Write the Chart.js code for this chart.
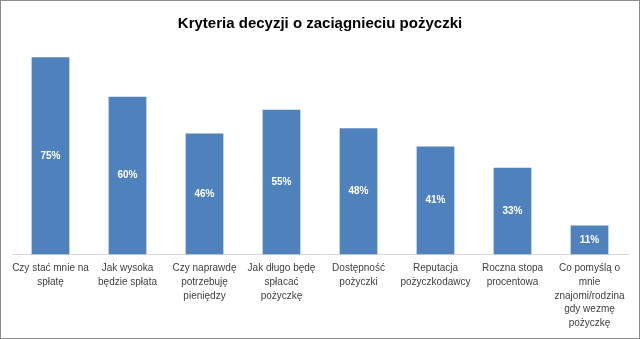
<!DOCTYPE html>
<html>
<head>
<meta charset="utf-8">
<script src="https://cdn.jsdelivr.net/npm/chart.js@4"></script>
<style>
html,body{margin:0;padding:0;background:#fff;}
#wrap{width:640px;height:339px;box-sizing:border-box;border:1px solid #8c8c8c;position:relative;}
#c{display:block;}
</style>
</head>
<body>
<div id="wrap"><canvas id="c" width="638" height="337"></canvas></div>
<script>
const titleText = "Kryteria decyzji o zaciągnieciu pożyczki";
const categories = [
  ["Czy stać mnie na","spłatę"],
  ["Jak wysoka","będzie spłata"],
  ["Czy naprawdę","potrzebuję","pieniędzy"],
  ["Jak długo będę","spłacać","pożyczkę"],
  ["Dostępność","pożyczki"],
  ["Reputacja","pożyczkodawcy"],
  ["Roczna stopa","procentowa"],
  ["Co pomyślą o","mnie","znajomi/rodzina","gdy wezmę","pożyczkę"]
];
const values = [75, 60, 46, 55, 48, 41, 33, 11];

const barLabels = {
  id: 'barLabels',
  afterDatasetsDraw(chart) {
    const ctx = chart.ctx;
    const meta = chart.getDatasetMeta(0);
    ctx.save();
    ctx.fillStyle = '#ffffff';
    ctx.font = 'bold 10px "Liberation Sans", Arial, sans-serif';
    ctx.textAlign = 'center';
    ctx.textBaseline = 'middle';
    meta.data.forEach((bar, i) => {
      const y = (bar.y + bar.base) / 2;
      ctx.fillText(values[i] + '%', bar.x, y);
    });
    ctx.restore();
  }
};

new Chart(document.getElementById('c'), {
  type: 'bar',
  data: {
    labels: categories,
    datasets: [{
      data: values,
      backgroundColor: '#4F81BD',
      borderWidth: 0,
      barPercentage: 0.49,
      categoryPercentage: 1.0
    }]
  },
  options: {
    responsive: false,
    animation: false,
    events: [],
    layout: { padding: { left: 11, right: 11, top: 0, bottom: 1 } },
    plugins: {
      legend: { display: false },
      tooltip: { enabled: false },
      title: {
        display: true,
        text: titleText,
        color: '#000000',
        font: { family: '"Liberation Sans", Arial, sans-serif', size: 15, weight: 'bold' },
        padding: { top: 14, bottom: 11 }
      }
    },
    scales: {
      y: {
        display: false,
        min: 0,
        max: 80
      },
      x: {
        grid: { display: false, drawTicks: false },
        border: { display: true, color: '#d9d9d9', width: 1 },
        ticks: {
          color: '#404040',
          autoSkip: false,
          maxRotation: 0,
          minRotation: 0,
          padding: 7,
          font: { family: '"Liberation Sans", Arial, sans-serif', size: 10, lineHeight: 1.37 }
        }
      }
    }
  },
  plugins: [barLabels]
});
</script>
</body>
</html>
